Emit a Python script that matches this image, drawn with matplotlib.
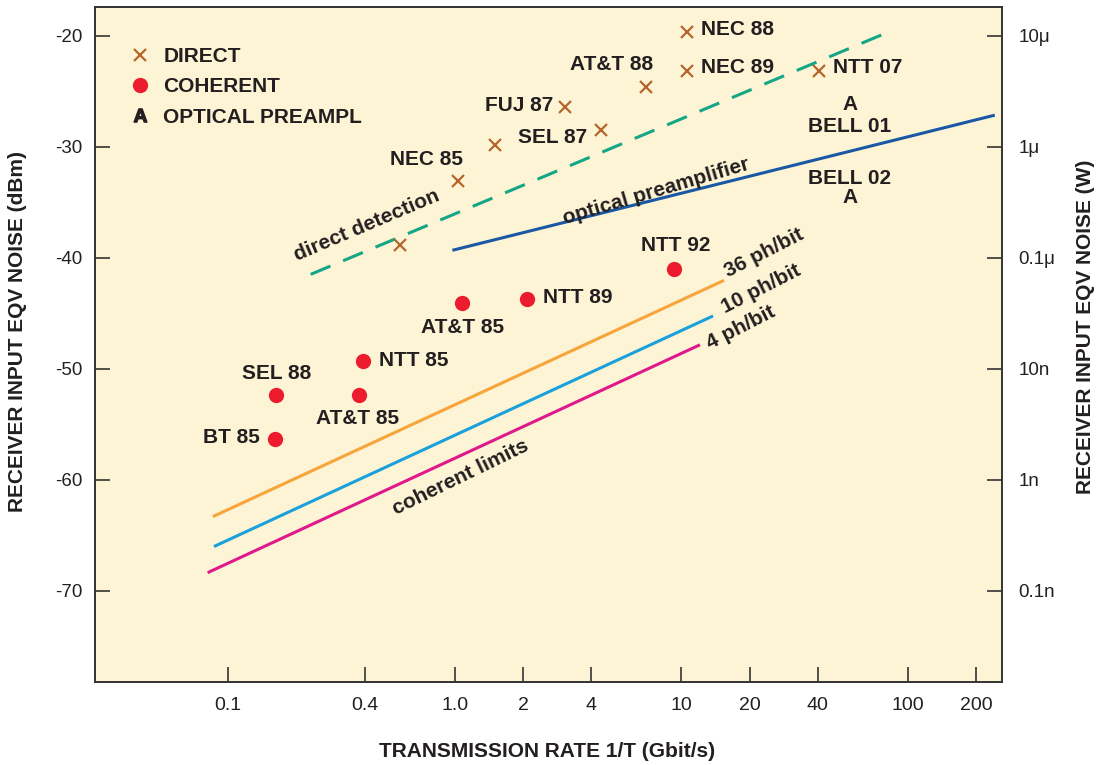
import matplotlib
matplotlib.use("Agg")
import matplotlib.pyplot as plt
from matplotlib.lines import Line2D

plt.rcParams['font.family'] = ['Liberation Sans', 'DejaVu Sans']
plt.rcParams['mathtext.fontset'] = 'custom'
plt.rcParams['mathtext.bf'] = 'Liberation Sans:bold'

# ---------------- data ----------------
direct_x = [1.03, 0.57, 1.50, 3.07, 4.43, 7.0, 10.6, 10.6, 40.4]
direct_y = [-33.1, -38.9, -29.85, -26.4, -28.5, -24.6, -19.7, -23.2, -23.2]

coherent_x = [1.07, 2.08, 0.395, 0.163, 0.376, 0.161, 9.32]
coherent_y = [-44.1, -43.7, -49.3, -52.4, -52.35, -56.3, -41.0]

preampl_x = [55.4, 55.4]
preampl_y = [-26.2, -34.6]

# labels: text, x, y (data coordinates of label centre)
point_labels = [
    ("NEC 85", 0.748, -31.2),
    ("FUJ 87", 1.92, -26.3),
    ("SEL 87", 2.71, -29.2),
    ("AT&T 88", 4.90, -22.65),
    ("NEC 88", 17.7, -19.5),
    ("NEC 89", 17.7, -22.9),
    ("NTT 07", 66.5, -22.9),
    ("BELL 01", 55.4, -28.2),
    ("BELL 02", 55.4, -32.9),
    ("AT&T 85", 1.085, -46.3),
    ("NTT 85", 0.659, -49.3),
    ("SEL 88", 0.163, -50.4),
    ("AT&T 85", 0.372, -54.5),
    ("BT 85", 0.103, -56.2),
    ("NTT 89", 3.50, -43.6),
    ("NTT 92", 9.40, -38.9),
]

direct_line_x = [0.231, 81.6]
direct_line_y = [-41.5, -19.7]
preamp_line_x = [0.99, 238.0]
preamp_line_y = [-39.3, -27.2]
ph36_x = [0.0867, 15.2]
ph36_y = [-63.25, -42.1]
ph10_x = [0.0876, 13.6]
ph10_y = [-65.95, -45.3]
ph4_x = [0.0822, 11.9]
ph4_y = [-68.3, -47.9]

# rotated line labels: text, x, y, angle
line_labels = [
    ("direct detection", 0.408, -37.1, 23),
    ("optical preamplifier", 7.76, -34.0, 16.5),
    ("coherent limits", 1.06, -59.8, 26),
    ("36 ph/bit", 23.1, -39.6, 27),
    ("10 ph/bit", 22.4, -42.8, 27),
    ("4 ph/bit", 18.3, -46.3, 27),
]

xticks = [0.1, 0.4, 1.0, 2, 4, 10, 20, 40, 100, 200]
xtick_labels = ["0.1", "0.4", "1.0", "2", "4", "10", "20", "40", "100", "200"]
yticks = [-20, -30, -40, -50, -60, -70]
ytick_labels = ["-20", "-30", "-40", "-50", "-60", "-70"]
wtick_labels = ["10\u03bc", "1\u03bc", "0.1\u03bc", "10n", "1n", "0.1n"]

# ---------------- style ----------------
BG = '#FDF4D6'
TXT = '#231F20'
C_DIRECT = '#B5662A'
C_COH = '#EC1C2E'
C_GREEN = '#15A685'
C_BLUE = '#1A58A5'
C_ORANGE = '#F7A43A'
C_CYAN = '#1AA1DB'
C_MAG = '#DF198C'

fig = plt.figure(figsize=(11.05, 7.65), dpi=100)
ax = fig.add_axes([95/1105, 1-682/765, 907/1105, 675/765])
ax.set_facecolor(BG)
ax.set_xscale('log')
ax.set_xlim(0.0258, 260)
ax.set_ylim(-78.2, -17.43)

lw = 2.2
ax.plot(direct_line_x, direct_line_y, color=C_GREEN, lw=lw, dashes=(7, 4.5), solid_capstyle='butt')
ax.plot(preamp_line_x, preamp_line_y, color=C_BLUE, lw=lw)
ax.plot(ph36_x, ph36_y, color=C_ORANGE, lw=lw)
ax.plot(ph10_x, ph10_y, color=C_CYAN, lw=lw)
ax.plot(ph4_x, ph4_y, color=C_MAG, lw=lw)

ax.plot(direct_x, direct_y, linestyle='none', marker='x', markersize=8.5,
        markeredgewidth=1.6, color=C_DIRECT)
ax.plot(coherent_x, coherent_y, linestyle='none', marker='o', markersize=11,
        color=C_COH, markeredgewidth=0)
for px, py in zip(preampl_x, preampl_y):
    ax.text(px, py, "A", ha='center', va='center', fontsize=15,
            fontweight='bold', color=TXT)

for t, x, y in point_labels:
    ax.text(x, y, t, ha='center', va='center', fontsize=15, fontweight='bold', color=TXT)

for t, x, y, ang in line_labels:
    ax.text(x, y, t, ha='center', va='center', fontsize=15, fontweight='bold',
            color=TXT, rotation=ang, rotation_mode='anchor')

# legend
handles = [
    Line2D([], [], linestyle='none', marker='x', markersize=8.5, markeredgewidth=1.6, color=C_DIRECT),
    Line2D([], [], linestyle='none', marker='o', markersize=11, markeredgewidth=0, color=C_COH),
    Line2D([], [], linestyle='none', marker=r'$\mathbf{A}$', markersize=9.5, color=TXT),
]
leg = ax.legend(handles, ["DIRECT", "COHERENT", "OPTICAL PREAMPL"], loc='upper left',
                bbox_to_anchor=(0.038, 0.941), frameon=False, borderpad=0, borderaxespad=0,
                handlelength=1.0, handletextpad=0.62, labelspacing=0.55,
                prop={'size': 15, 'weight': 'bold'})
for t in leg.get_texts():
    t.set_color(TXT)

# axes styling
for s in ax.spines.values():
    s.set_color('#333333')
    s.set_linewidth(1.4)

ax.set_xticks(xticks)
ax.set_xticklabels(xtick_labels)
ax.xaxis.set_minor_locator(matplotlib.ticker.NullLocator())
ax.set_yticks(yticks)
ax.set_yticklabels(ytick_labels)
ax.tick_params(axis='both', direction='in', length=11, width=1.2, color='#333333',
               labelcolor=TXT, labelsize=13.5)
ax.tick_params(axis='x', pad=11, labelsize=14)
ax.tick_params(axis='y', pad=9)

ax.set_xlabel("TRANSMISSION RATE 1/T (Gbit/s)", fontsize=15, fontweight='bold', color=TXT)
ax.xaxis.set_label_coords(0.498, -0.089)
ax.set_ylabel("RECEIVER INPUT EQV NOISE (dBm)", fontsize=15, fontweight='bold', color=TXT)
ax.yaxis.set_label_coords(-0.075, 0.52)

ax2 = ax.twinx()
ax2.set_ylim(ax.get_ylim())
ax2.set_yticks(yticks)
ax2.set_yticklabels(wtick_labels)
ax2.tick_params(axis='y', direction='in', length=11, width=1.2, color='#333333',
                labelcolor=TXT, labelsize=13.5, pad=12)
for s in ax2.spines.values():
    s.set_visible(False)
ax2.set_ylabel("RECEIVER INPUT EQV NOISE (W)", fontsize=15, fontweight='bold', color=TXT)
ax2.yaxis.set_label_coords(1.082, 0.526)

fig.savefig("out.png", dpi=100, facecolor='white')
